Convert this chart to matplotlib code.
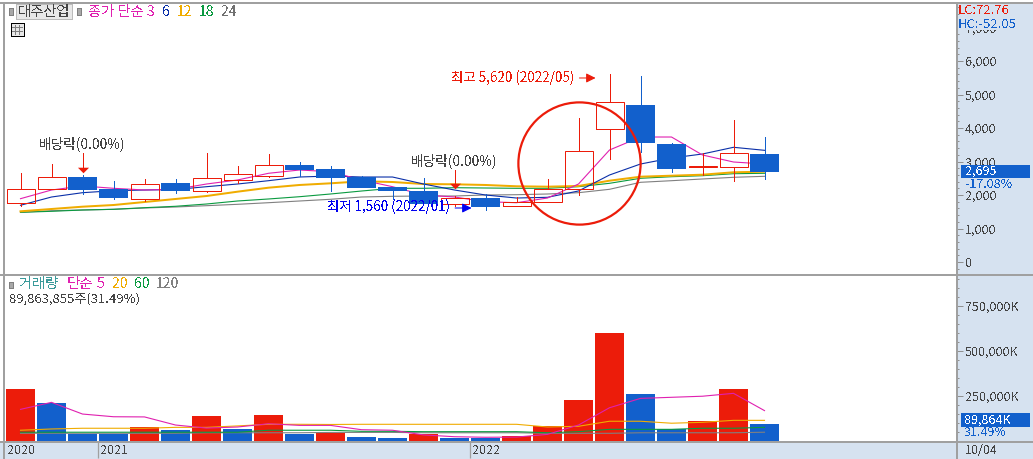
import matplotlib
matplotlib.use("Agg")
import matplotlib.pyplot as plt
from matplotlib.patches import Rectangle
from matplotlib.lines import Line2D
from matplotlib.ticker import MultipleLocator, FuncFormatter

W, H = 1033, 459
plt.rcParams['font.family'] = ['Noto Sans CJK KR', 'DejaVu Sans']
plt.rcParams['text.antialiased'] = False

opens  = [1750,2190,2537,2179,1890,2358,2128,2457,2576,2896,2776,2546,2239,2119,1740,1910,1663,1782,2170,3979,4687,3522,2850,2845,3224]
closes = [2170,2530,2149,1910,2319,2119,2498,2627,2886,2746,2507,2209,2119,1740,1900,1642,1791,2170,3304,4767,3561,2785,2880,3245,2695]
highs  = [2660,2925,2597,2418,2478,2478,3254,2866,3224,2976,2866,2560,2239,2507,1970,2020,1950,2478,4298,5620,5552,3543,3245,4239,3731]
lows   = [1680,2190,2020,1880,1812,2069,2080,2367,2546,2567,2119,2209,1890,1740,1672,1560,1663,1782,2009,3084,3293,2696,2588,2427,2469]
ma3  = [1890,2149,2269,2200,2149,2170,2328,2448,2648,2746,2696,2448,2248,2000,1940,1800,1770,1910,2328,3343,3731,3731,3194,2985,2925]
ma6  = [1693,1940,2069,2128,2149,2164,2248,2328,2427,2537,2567,2537,2537,2328,2149,2000,1910,1931,2120,2597,2925,3104,3224,3424,3334]
ma12 = [1513,1582,1651,1701,1791,1881,1970,2099,2218,2299,2349,2409,2388,2328,2319,2299,2260,2248,2269,2427,2546,2576,2606,2678,2696]
ma18 = [1484,1513,1552,1573,1621,1663,1731,1821,1881,1949,2030,2119,2200,2200,2218,2209,2200,2200,2248,2349,2499,2546,2576,2636,2648]
ma24 = [1484,1531,1552,1573,1612,1642,1681,1722,1770,1821,1872,1940,1961,1970,1970,2000,2009,2030,2069,2170,2379,2427,2478,2528,2558]

volumes = [286000,208000,38000,38000,73000,58000,136000,64000,142000,36000,43000,19000,14000,36000,14000,16000,23000,81000,225000,597000,258000,64000,108000,286000,89864]
vol_up  = [1,0,0,0,1,0,1,0,1,0,1,0,0,1,0,0,1,1,1,1,0,0,1,1,0]
vma5   = [173000,212000,147000,132000,131000,86000,69000,75000,93000,84000,84000,60000,57000,31000,21000,18000,19000,34000,86000,182000,234000,240000,246000,262000,166000]
vma20  = [57000,64000,68000,68000,68000,73000,73000,81000,90000,90000,89000,90000,90000,90000,90000,90000,90000,75000,79000,107000,107000,96000,101000,112000,112000]
vma60  = [46000,46000,46000,46000,46000,46000,46000,46000,57000,57000,57000,51000,51000,49000,49000,49000,49000,43000,49000,62000,62000,62000,68000,68000,73000]
vma120 = [40000,40000,40000,40000,40000,40000,43000,43000,43000,43000,45000,45000,45000,43000,43000,43000,43000,40000,40000,40000,43000,43000,43000,43000,46000]

year_labels = ['2021', '2022']
year_pos = [2.5, 14.5]

RED, BLUE, PANEL = '#EC1C0A', '#1260CC', '#D6E2F0'
MAG, NAVY, ORG, GRN, GRY = '#E020B0', '#0A2FA8', '#F0AC00', '#0A9A40', '#808080'
TXT = '#444444'
GRID = '#A0A0A0'
THIN = 0.72
TRI = [(-1, 0.5), (1, 0.5), (0, -0.5)]

fig = plt.figure(figsize=(W/100, H/100), dpi=100, facecolor='white')

def axrect(x0, y0, x1, y1):
    return [x0/W, 1-y1/H, (x1-x0)/W, (y1-y0)/H]
def ptext(x, y, s, color=TXT, size=9, ha='left', z=6, **kw):
    return fig.text(x/W, 1-y/H, s, color=color, fontsize=size, ha=ha, va='center', zorder=z, **kw)
def prect(x0, y0, x1, y1, fc, ec='none', z=5, lw=THIN):
    p = Rectangle((x0/W, 1-y1/H), (x1-x0)/W, (y1-y0)/H, transform=fig.transFigure,
                  facecolor=fc, edgecolor=ec, zorder=z, linewidth=lw, antialiased=False)
    fig.add_artist(p)
def pline(x0, y0, x1, y1, c=GRID, lw=1.44, z=5):
    fig.add_artist(Line2D([x0/W, x1/W], [1-y0/H, 1-y1/H], color=c, lw=lw, zorder=z,
                          antialiased=False, transform=fig.transFigure))

prect(957, 4, W, H, PANEL, z=-2)
prect(0, 442, W, H, PANEL, z=-2)

L, R = 5, 956
xlim = ((L-20.5)/31, (R-20.5)/31)
ax = fig.add_axes(axrect(L, 4, R, 275))
ax.set_xlim(*xlim)
ax.set_ylim((262-275)/0.0335, (262-4)/0.0335)
bx = fig.add_axes(axrect(L, 275, R, 441))
bx.set_xlim(*xlim)
bx.set_ylim((440.5-441)*250000/45, (440.5-275)*250000/45)

for a in (ax, bx):
    for s in a.spines.values():
        s.set_visible(False)
    a.yaxis.tick_right()
    a.tick_params(axis='y', which='major', length=5, width=0.72, color='#909090',
                  labelcolor=TXT, labelsize=9, pad=1.5)
    a.tick_params(axis='y', which='minor', length=2, width=0.72, color='#909090')
    a.set_xticks([])

xs = list(range(len(opens)))
for series, c, lw, z in [(ma24, GRY, 0.8, 2), (ma18, GRN, 0.8, 2.1), (ma12, ORG, 1.44, 2.2),
                         (ma6, NAVY, 0.8, 2.3), (ma3, MAG, 0.8, 2.4)]:
    ax.plot(xs, series, color=c, lw=lw, zorder=z)

half = 14/31
for i in xs:
    up = closes[i] >= opens[i]
    col = RED if up else BLUE
    lo, hi = min(opens[i], closes[i]), max(opens[i], closes[i])
    ax.plot([i, i], [lows[i], lo], color=col, lw=THIN, zorder=3, snap=True)
    ax.plot([i, i], [hi, highs[i]], color=col, lw=THIN, zorder=3, snap=True)
    if up:
        ax.plot([i-half, i+half, i+half, i-half, i-half], [lo, lo, hi, hi, lo], color=RED, lw=THIN,
                zorder=3, solid_joinstyle='miter', snap=True)
    else:
        ax.bar(i, hi-lo, bottom=lo, width=29/31, color=BLUE, linewidth=0, zorder=3, antialiased=False)

ax.yaxis.set_major_locator(MultipleLocator(1000))
ax.yaxis.set_minor_locator(MultipleLocator(200))
ax.yaxis.set_major_formatter(FuncFormatter(lambda v, p: f'{int(v):,}'))

# annotations
ax.plot([2, 2], [3254, 2836], color=RED, lw=THIN, zorder=4, snap=True)
ax.plot([2], [2746], marker=TRI, ms=8, color=RED, mew=0, zorder=4, linestyle='none')
ax.plot([14, 14], [2746, 2300], color=RED, lw=THIN, zorder=4, snap=True)
ax.plot([14], [2254], marker=TRI, ms=8, color=RED, mew=0, zorder=4, linestyle='none')
ax.plot([18], [2964], marker='o', ms=88, mfc='none', mec=RED, mew=1.6, zorder=5, linestyle='none', antialiased=False)
ax.annotate('', xy=(18.55, 5493), xytext=(18.03, 5493),
            arrowprops=dict(arrowstyle='-|>', color=RED, lw=THIN, mutation_scale=14, shrinkA=0, shrinkB=0))
ax.annotate('', xy=(14.55, 1612), xytext=(14.02, 1612),
            arrowprops=dict(arrowstyle='-|>', color='#0000F0', lw=THIN, mutation_scale=14, shrinkA=0, shrinkB=0))
ptext(39, 144, '배당락(0.00%)', size=9.9)
ptext(411, 161, '배당락(0.00%)', size=9.9)
ptext(451, 78, '최고 5,620 (2022/05)', color=RED, size=9.7)
ptext(327, 207, '최저 1,560 (2022/01)', color='#0000F0', size=9.7)

# volume panel
for i in xs:
    bx.bar(i, volumes[i], width=29/31, color=RED if vol_up[i] else BLUE, linewidth=0,
           zorder=1, antialiased=False)
for series, c, lw, z in [(vma120, GRY, 0.8, 2), (vma60, GRN, 0.8, 2.1), (vma20, ORG, 0.8, 2.2), (vma5, MAG, 0.8, 2.3)]:
    bx.plot(xs, series, color=c, lw=lw, zorder=z)
bx.yaxis.set_major_locator(MultipleLocator(250000))
bx.yaxis.set_minor_locator(MultipleLocator(50000))
bx.yaxis.set_major_formatter(FuncFormatter(lambda v, p: f'{int(v):,}K' if v > 0 else ''))

# date axis
bx.set_xticks(year_pos)
bx.set_xticklabels([])
bx.tick_params(axis='x', length=12.5, width=0.9, color=GRID)
ptext(7, 450, '2020')
for s, p in zip(year_labels, year_pos):
    bx.annotate(s, xy=(p, 0), xycoords=('data', 'axes fraction'), xytext=(2, -9),
                textcoords='offset pixels', color=TXT, fontsize=9, ha='left', va='center', annotation_clip=False)
ptext(965, 450, '10/04')
pline(957, 441, 957, H)

# frame
pline(0, 3, W, 3)
pline(4, 3, 4, H)
pline(0, 275, W, 275)
pline(0, 441.5, W, 441.5)
pline(957, 3, 957, 441)

# legend top
prect(8.5, 8, 12.5, 15, '#A8A8A8', ec='#808080')
prect(15.5, 4.5, 72, 19, '#E8E8E8', ec='#BBBBBB')
ptext(18, 12, '대주산업', size=10.3)
prect(76.5, 8, 80.5, 15, '#A8A8A8', ec='#808080')
ptext(88, 12, '종가 단순', color=MAG, size=10.3)
ptext(147, 12, '3', color=MAG, size=10)
ptext(162, 12, '6', color=NAVY, size=10)
ptext(177, 12, '12', color=ORG, size=10)
ptext(199, 12, '18', color=GRN, size=10)
ptext(221, 12, '24', color='#707070', size=10)
# table icon
prect(10.5, 23.5, 23.5, 35.5, '#E8E8E8', ec='black')
for px in (15, 19):
    pline(px, 25, px, 34, c='#808080', lw=0.6, z=6)
for py in (27, 31):
    pline(12, py, 22, py, c='#808080', lw=0.6, z=6)

# legend bottom
prect(8.5, 282, 12.5, 288, '#A8A8A8', ec='#808080')
ptext(19, 284, '거래량', color='#3A9A9A', size=10.3)
ptext(67, 284, '단순', color=MAG, size=10.3)
ptext(97, 284, '5', color=MAG, size=10)
ptext(112, 284, '20', color=ORG, size=10)
ptext(134, 284, '60', color=GRN, size=10)
ptext(156, 284, '120', color='#808080', size=10)
ptext(9, 299, '89,863,855주(31.49%)', size=9.4)

# right badges
prect(958, 17, W, 30, PANEL)
ptext(958, 11, 'LC:72.76', color=RED, size=9.4)
ptext(958, 24, 'HC:-52.05', color=BLUE, size=9.4)
prect(961, 165, 1030, 178, BLUE)
ptext(965, 171.5, '2,695', color='white')
prect(961, 179, 1030, 191, PANEL)
ptext(965, 185, '-17.08%', color=BLUE)
prect(961, 413, 1030, 427, BLUE)
ptext(964, 420, '89,864K', color='white')
ptext(964, 433, '31.49%', color=BLUE)

fig.savefig('out.png', dpi=100)
